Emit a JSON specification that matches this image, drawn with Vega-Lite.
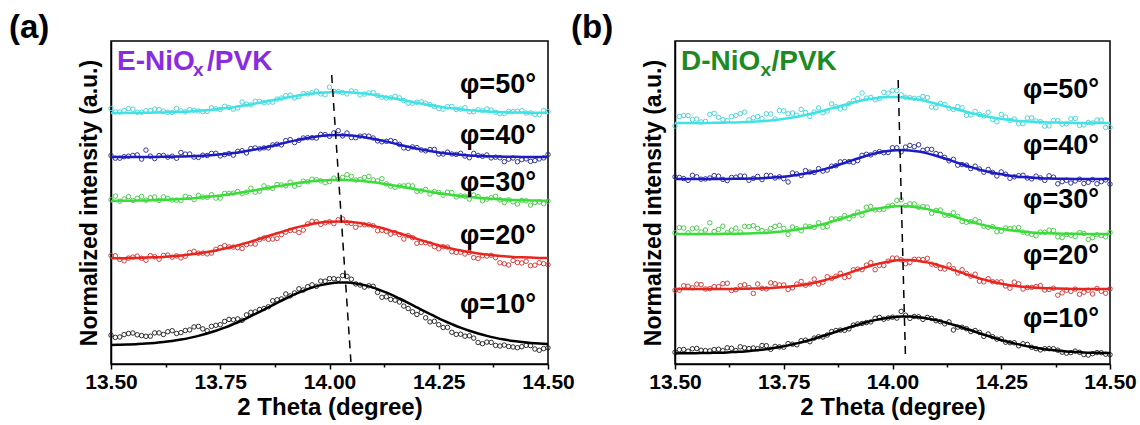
{
"$schema": "https://vega.github.io/schema/vega-lite/v6.json",
"padding": {"left": 8, "top": 11, "right": 0, "bottom": 0},
"spacing": -6,
"config": {
  "view": {"stroke": "black", "strokeWidth": 1.5},
  "axis": {"grid": false, "domainColor": "black", "domainWidth": 1.5, "tickColor": "black", "tickWidth": 1.5, "labelColor": "black", "titleColor": "black", "labelFont": "Liberation Sans", "titleFont": "Liberation Sans"}
},
"datasets": {
"A": [
{"x":13.5,"f10":19.0,"f20":105.7,"f30":163.1,"f40":207.0,"f50":251.1,"p10":28.8,"p20":108.4,"p30":164.2,"p40":208.5,"p50":255.6},
{"x":13.52,"f10":19.2,"f20":105.8,"f30":163.2,"f40":207.0,"f50":251.1,"p10":27.0,"p20":104.6,"p30":162.8,"p40":205.8,"p50":252.1},
{"x":13.54,"f10":19.5,"f20":105.9,"f30":163.3,"f40":207.0,"f50":251.1,"p10":30.5,"p20":105.9,"p30":167.4,"p40":207.8,"p50":255.4},
{"x":13.56,"f10":19.9,"f20":106.1,"f30":163.4,"f40":207.1,"f50":251.2,"p10":29.2,"p20":107.9,"p30":165.7,"p40":209.1,"p50":251.7},
{"x":13.58,"f10":20.4,"f20":106.4,"f30":163.6,"f40":207.1,"f50":251.3,"p10":27.7,"p20":103.7,"p30":163.8,"p40":213.9,"p50":253.3},
{"x":13.6,"f10":21.1,"f20":106.7,"f30":163.8,"f40":207.1,"f50":251.4,"p10":31.1,"p20":107.3,"p30":167.0,"p40":205.4,"p50":254.9},
{"x":13.62,"f10":22.0,"f20":107.1,"f30":164.1,"f40":207.2,"f50":251.6,"p10":29.5,"p20":108.6,"p30":167.1,"p40":208.5,"p50":252.9},
{"x":13.64,"f10":23.0,"f20":107.7,"f30":164.5,"f40":207.3,"f50":251.8,"p10":33.3,"p20":106.8,"p30":163.9,"p40":207.8,"p50":251.6},
{"x":13.66,"f10":24.4,"f20":108.5,"f30":165.0,"f40":207.5,"f50":252.2,"p10":31.4,"p20":106.1,"p30":163.5,"p40":211.5,"p50":253.2},
{"x":13.68,"f10":26.1,"f20":109.4,"f30":165.5,"f40":207.7,"f50":252.6,"p10":34.1,"p20":111.5,"p30":166.4,"p40":210.0,"p50":254.4},
{"x":13.7,"f10":28.1,"f20":110.5,"f30":166.2,"f40":208.1,"f50":253.2,"p10":37.6,"p20":110.8,"p30":168.6,"p40":206.6,"p50":253.0},
{"x":13.72,"f10":30.5,"f20":111.9,"f30":167.0,"f40":208.5,"f50":253.8,"p10":33.3,"p20":110.1,"p30":166.7,"p40":208.5,"p50":252.6},
{"x":13.74,"f10":33.2,"f20":113.5,"f30":168.0,"f40":209.2,"f50":254.7,"p10":38.7,"p20":114.7,"p30":165.9,"p40":210.7,"p50":255.2},
{"x":13.76,"f10":36.3,"f20":115.4,"f30":169.1,"f40":210.0,"f50":255.7,"p10":42.6,"p20":118.4,"p30":170.6,"p40":209.3,"p50":257.7},
{"x":13.78,"f10":39.9,"f20":117.5,"f30":170.3,"f40":211.0,"f50":256.8,"p10":44.2,"p20":116.9,"p30":170.9,"p40":208.8,"p50":254.8},
{"x":13.8,"f10":43.7,"f20":119.9,"f30":171.6,"f40":212.3,"f50":258.2,"p10":43.7,"p20":115.4,"p30":170.4,"p40":213.3,"p50":262.0},
{"x":13.82,"f10":47.9,"f20":122.4,"f30":173.1,"f40":213.7,"f50":259.6,"p10":51.7,"p20":120.3,"p30":175.8,"p40":215.5,"p50":259.1},
{"x":13.84,"f10":52.2,"f20":125.1,"f30":174.6,"f40":215.4,"f50":261.2,"p10":54.5,"p20":124.5,"p30":172.8,"p40":215.2,"p50":262.7},
{"x":13.86,"f10":56.7,"f20":128.0,"f30":176.1,"f40":217.3,"f50":262.9,"p10":57.2,"p20":124.7,"p30":176.1,"p40":216.1,"p50":261.9},
{"x":13.88,"f10":61.2,"f20":130.7,"f30":177.7,"f40":219.3,"f50":264.6,"p10":64.2,"p20":125.6,"p30":179.5,"p40":219.8,"p50":264.9},
{"x":13.9,"f10":65.5,"f20":133.4,"f30":179.1,"f40":221.4,"f50":266.2,"p10":70.0,"p20":131.9,"p30":178.2,"p40":223.4,"p50":268.5},
{"x":13.92,"f10":69.6,"f20":136.0,"f30":180.5,"f40":223.4,"f50":267.8,"p10":71.1,"p20":133.6,"p30":177.8,"p40":221.4,"p50":266.1},
{"x":13.94,"f10":73.2,"f20":138.1,"f30":181.7,"f40":225.2,"f50":269.2,"p10":74.0,"p20":133.9,"p30":182.9,"p40":226.0,"p50":270.5},
{"x":13.96,"f10":76.4,"f20":140.0,"f30":182.7,"f40":226.8,"f50":270.4,"p10":79.2,"p20":142.7,"p30":184.8,"p40":226.3,"p50":271.2},
{"x":13.98,"f10":78.9,"f20":141.4,"f30":183.4,"f40":228.0,"f50":271.3,"p10":82.9,"p20":139.6,"p30":183.1,"p40":229.5,"p50":270.1},
{"x":14.0,"f10":80.6,"f20":142.2,"f30":183.9,"f40":228.7,"f50":271.8,"p10":85.4,"p20":142.2,"p30":182.4,"p40":227.7,"p50":276.8},
{"x":14.02,"f10":81.4,"f20":142.5,"f30":184.0,"f40":229.0,"f50":272.0,"p10":84.7,"p20":144.3,"p30":184.6,"p40":233.3,"p50":272.3},
{"x":14.04,"f10":81.4,"f20":142.2,"f30":183.9,"f40":228.7,"f50":271.8,"p10":87.7,"p20":141.3,"p30":189.3,"p40":231.0,"p50":270.1},
{"x":14.06,"f10":80.6,"f20":141.4,"f30":183.4,"f40":228.0,"f50":271.3,"p10":80.1,"p20":136.7,"p30":184.0,"p40":226.3,"p50":272.3},
{"x":14.08,"f10":78.9,"f20":140.0,"f30":182.7,"f40":226.8,"f50":270.4,"p10":76.9,"p20":139.2,"p30":186.6,"p40":228.1,"p50":269.9},
{"x":14.1,"f10":76.4,"f20":138.1,"f30":181.7,"f40":225.2,"f50":269.2,"p10":77.7,"p20":138.2,"p30":184.1,"p40":226.0,"p50":271.5},
{"x":14.12,"f10":73.2,"f20":136.0,"f30":180.5,"f40":223.4,"f50":267.8,"p10":66.7,"p20":133.7,"p30":185.3,"p40":222.2,"p50":266.8},
{"x":14.14,"f10":69.6,"f20":133.4,"f30":179.1,"f40":221.4,"f50":266.2,"p10":64.6,"p20":129.9,"p30":177.9,"p40":223.4,"p50":266.2},
{"x":14.16,"f10":65.5,"f20":130.7,"f30":177.7,"f40":219.3,"f50":264.6,"p10":62.0,"p20":129.3,"p30":178.0,"p40":219.6,"p50":266.1},
{"x":14.18,"f10":61.2,"f20":128.0,"f30":176.1,"f40":217.3,"f50":262.9,"p10":55.5,"p20":128.4,"p30":178.8,"p40":215.6,"p50":260.7},
{"x":14.2,"f10":56.7,"f20":125.1,"f30":174.6,"f40":215.4,"f50":261.2,"p10":49.5,"p20":120.7,"p30":172.5,"p40":216.4,"p50":261.7},
{"x":14.22,"f10":52.2,"f20":122.4,"f30":173.1,"f40":213.7,"f50":259.6,"p10":46.2,"p20":121.3,"p30":174.6,"p40":213.2,"p50":260.9},
{"x":14.24,"f10":47.9,"f20":119.9,"f30":171.6,"f40":212.3,"f50":258.2,"p10":42.7,"p20":117.3,"p30":172.5,"p40":214.6,"p50":257.5},
{"x":14.26,"f10":43.7,"f20":117.5,"f30":170.3,"f40":211.0,"f50":256.8,"p10":36.5,"p20":117.3,"p30":168.8,"p40":210.0,"p50":254.8},
{"x":14.28,"f10":39.9,"f20":115.4,"f30":169.1,"f40":210.0,"f50":255.7,"p10":31.7,"p20":112.2,"p30":171.5,"p40":210.0,"p50":257.5},
{"x":14.3,"f10":36.3,"f20":113.5,"f30":168.0,"f40":209.2,"f50":254.7,"p10":29.8,"p20":111.8,"p30":168.3,"p40":210.7,"p50":255.0},
{"x":14.32,"f10":33.2,"f20":111.9,"f30":167.0,"f40":208.5,"f50":253.8,"p10":28.2,"p20":111.6,"p30":164.9,"p40":206.3,"p50":252.3},
{"x":14.34,"f10":30.5,"f20":110.5,"f30":166.2,"f40":208.1,"f50":253.2,"p10":21.5,"p20":105.4,"p30":167.4,"p40":208.6,"p50":254.2},
{"x":14.36,"f10":28.1,"f20":109.4,"f30":165.5,"f40":207.7,"f50":252.6,"p10":21.9,"p20":107.9,"p30":164.9,"p40":209.0,"p50":255.1},
{"x":14.38,"f10":26.1,"f20":108.5,"f30":165.0,"f40":207.5,"f50":252.2,"p10":18.6,"p20":106.4,"p30":167.7,"p40":206.8,"p50":251.7},
{"x":14.4,"f10":24.4,"f20":107.7,"f30":164.5,"f40":207.3,"f50":251.8,"p10":18.9,"p20":100.2,"p30":161.3,"p40":202.3,"p50":250.6},
{"x":14.42,"f10":23.0,"f20":107.1,"f30":164.1,"f40":207.2,"f50":251.6,"p10":17.0,"p20":103.5,"p30":162.1,"p40":206.0,"p50":252.4},
{"x":14.44,"f10":22.0,"f20":106.7,"f30":163.8,"f40":207.1,"f50":251.4,"p10":17.3,"p20":101.0,"p30":163.6,"p40":204.4,"p50":253.4},
{"x":14.46,"f10":21.1,"f20":106.4,"f30":163.6,"f40":207.1,"f50":251.3,"p10":18.4,"p20":98.3,"p30":158.9,"p40":202.6,"p50":251.1},
{"x":14.48,"f10":20.4,"f20":106.1,"f30":163.4,"f40":207.1,"f50":251.2,"p10":13.7,"p20":101.3,"p30":162.0,"p40":205.1,"p50":249.5},
{"x":14.5,"f10":19.9,"f20":105.9,"f30":163.3,"f40":207.0,"f50":251.1,"p10":16.2,"p20":99.3,"p30":162.8,"p40":209.5,"p50":252.4},
{"x":13.51,"p10":26.6,"p20":108.2,"p30":167.9,"p40":205.8,"p50":252.1},
{"x":13.53,"p10":29.4,"p20":103.2,"p30":165.0,"p40":207.3,"p50":253.6},
{"x":13.55,"p10":31.0,"p20":106.9,"p30":163.6,"p40":208.6,"p50":254.9},
{"x":13.57,"p10":28.4,"p20":105.7,"p30":167.6,"p40":204.9,"p50":251.8},
{"x":13.59,"p10":27.8,"p20":108.4,"p30":166.3,"p40":207.9,"p50":253.4},
{"x":13.61,"p10":31.1,"p20":104.8,"p30":163.6,"p40":208.4,"p50":254.5},
{"x":13.63,"p10":32.3,"p20":108.9,"p30":165.5,"p40":206.8,"p50":251.7},
{"x":13.65,"p10":30.5,"p20":108.1,"p30":163.9,"p40":205.7,"p50":255.5},
{"x":13.67,"p10":33.5,"p20":107.8,"p30":167.7,"p40":209.9,"p50":252.2},
{"x":13.69,"p10":37.1,"p20":112.7,"p30":164.4,"p40":206.9,"p50":253.7},
{"x":13.71,"p10":35.1,"p20":110.9,"p30":166.9,"p40":208.8,"p50":252.3},
{"x":13.73,"p10":37.6,"p20":110.9,"p30":169.3,"p40":210.6,"p50":256.3},
{"x":13.75,"p10":39.3,"p20":116.6,"p30":165.9,"p40":208.1,"p50":254.5},
{"x":13.77,"p10":44.6,"p20":117.1,"p30":170.6,"p40":210.5,"p50":256.5},
{"x":13.79,"p10":45.1,"p20":116.3,"p30":172.5,"p40":212.7,"p50":256.0},
{"x":13.81,"p10":49.1,"p20":119.4,"p30":171.8,"p40":211.0,"p50":259.9},
{"x":13.83,"p10":52.1,"p20":119.9,"p30":171.8,"p40":216.1,"p50":262.7},
{"x":13.85,"p10":55.5,"p20":126.0,"p30":178.1,"p40":216.1,"p50":261.3},
{"x":13.87,"p10":63.2,"p20":124.9,"p30":175.7,"p40":219.1,"p50":261.8},
{"x":13.89,"p10":65.1,"p20":129.4,"p30":179.0,"p40":219.1,"p50":265.9},
{"x":13.91,"p10":68.1,"p20":133.5,"p30":181.9,"p40":224.4,"p50":268.8},
{"x":13.93,"p10":75.2,"p20":131.4,"p30":179.3,"p40":223.6,"p50":267.3},
{"x":13.95,"p10":77.3,"p20":140.0,"p30":182.2,"p40":226.3,"p50":270.1},
{"x":13.97,"p10":77.7,"p20":142.2,"p30":184.3,"p40":225.9,"p50":272.9},
{"x":13.99,"p10":82.8,"p20":141.2,"p30":181.3,"p40":229.4,"p50":269.3},
{"x":14.01,"p10":85.3,"p20":140.3,"p30":185.8,"p40":231.1,"p50":272.7},
{"x":14.03,"p10":88.4,"p20":145.1,"p30":186.7,"p40":228.1,"p50":271.4},
{"x":14.05,"p10":84.8,"p20":140.6,"p30":187.6,"p40":226.4,"p50":273.1},
{"x":14.07,"p10":79.0,"p20":139.3,"p30":184.6,"p40":227.9,"p50":269.1},
{"x":14.09,"p10":78.2,"p20":139.2,"p30":187.6,"p40":227.8,"p50":271.1},
{"x":14.11,"p10":71.6,"p20":133.3,"p30":183.2,"p40":223.1,"p50":268.5},
{"x":14.13,"p10":67.2,"p20":132.7,"p30":180.1,"p40":222.7,"p50":266.0},
{"x":14.15,"p10":63.8,"p20":131.3,"p30":176.6,"p40":222.4,"p50":267.7},
{"x":14.17,"p10":57.9,"p20":125.0,"p30":178.1,"p40":216.1,"p50":263.5},
{"x":14.19,"p10":52.2,"p20":126.4,"p30":178.1,"p40":217.1,"p50":260.6},
{"x":14.21,"p10":51.7,"p20":121.5,"p30":173.0,"p40":214.1,"p50":262.2},
{"x":14.23,"p10":42.1,"p20":120.1,"p30":170.0,"p40":214.5,"p50":259.4},
{"x":14.25,"p10":39.3,"p20":115.2,"p30":171.6,"p40":209.9,"p50":255.5},
{"x":14.27,"p10":36.6,"p20":116.9,"p30":171.8,"p40":211.8,"p50":257.3},
{"x":14.29,"p10":29.6,"p20":111.6,"p30":167.1,"p40":209.6,"p50":254.5},
{"x":14.31,"p10":27.8,"p20":110.0,"p30":167.8,"p40":207.9,"p50":256.3},
{"x":14.33,"p10":25.9,"p20":106.4,"p30":169.0,"p40":210.6,"p50":252.3},
{"x":14.35,"p10":20.3,"p20":108.2,"p30":163.2,"p40":207.7,"p50":253.2},
{"x":14.37,"p10":21.6,"p20":108.7,"p30":166.2,"p40":206.1,"p50":253.9},
{"x":14.39,"p10":18.0,"p20":101.2,"p30":164.2,"p40":206.2,"p50":250.3},
{"x":14.41,"p10":17.5,"p20":99.0,"p30":164.1,"p40":204.8,"p50":252.5},
{"x":14.43,"p10":16.3,"p20":101.5,"p30":159.9,"p40":202.2,"p50":252.8},
{"x":14.45,"p10":18.6,"p20":102.7,"p30":163.2,"p40":205.1,"p50":250.9},
{"x":14.47,"p10":15.0,"p20":98.8,"p30":161.5,"p40":203.4,"p50":249.5},
{"x":14.49,"p10":15.4,"p20":100.3,"p30":160.2,"p40":206.1,"p50":253.4}
],
"B": [
{"x":13.5,"f10":10.6,"f20":75.0,"f30":130.0,"f40":185.0,"f50":241.0,"p10":11.8,"p20":73.8,"p30":131.2,"p40":187.2,"p50":238.0},
{"x":13.52,"f10":10.7,"f20":75.0,"f30":130.0,"f40":185.0,"f50":241.0,"p10":14.5,"p20":78.2,"p30":136.0,"p40":185.4,"p50":248.5},
{"x":13.54,"f10":10.8,"f20":75.0,"f30":130.0,"f40":185.0,"f50":241.0,"p10":15.2,"p20":76.2,"p30":135.2,"p40":188.7,"p50":244.5},
{"x":13.56,"f10":10.9,"f20":75.0,"f30":130.0,"f40":185.0,"f50":241.0,"p10":13.7,"p20":79.4,"p30":132.0,"p40":184.8,"p50":242.0},
{"x":13.58,"f10":11.1,"f20":75.0,"f30":130.0,"f40":185.0,"f50":241.1,"p10":13.1,"p20":75.4,"p30":141.2,"p40":186.0,"p50":249.6},
{"x":13.6,"f10":11.3,"f20":75.0,"f30":130.1,"f40":185.0,"f50":241.2,"p10":14.7,"p20":77.4,"p30":134.5,"p40":187.8,"p50":246.7},
{"x":13.62,"f10":11.6,"f20":75.1,"f30":130.2,"f40":185.1,"f50":241.4,"p10":16.2,"p20":80.7,"p30":131.4,"p40":183.4,"p50":243.4},
{"x":13.64,"f10":12.1,"f20":75.1,"f30":130.3,"f40":185.2,"f50":241.6,"p10":13.5,"p20":74.3,"p30":135.9,"p40":186.8,"p50":248.6},
{"x":13.66,"f10":12.6,"f20":75.2,"f30":130.4,"f40":185.3,"f50":241.9,"p10":16.2,"p20":79.2,"p30":137.6,"p40":187.8,"p50":251.9},
{"x":13.68,"f10":13.4,"f20":75.4,"f30":130.7,"f40":185.5,"f50":242.2,"p10":16.0,"p20":70.6,"p30":138.3,"p40":185.6,"p50":246.2},
{"x":13.7,"f10":14.3,"f20":75.7,"f30":131.1,"f40":185.8,"f50":242.8,"p10":18.5,"p20":75.7,"p30":133.5,"p40":184.4,"p50":245.3},
{"x":13.72,"f10":15.5,"f20":76.0,"f30":131.6,"f40":186.3,"f50":243.5,"p10":14.7,"p20":81.2,"p30":135.6,"p40":188.4,"p50":250.0},
{"x":13.74,"f10":16.9,"f20":76.6,"f30":132.3,"f40":186.9,"f50":244.5,"p10":17.1,"p20":79.0,"p30":138.7,"p40":187.2,"p50":253.5},
{"x":13.76,"f10":18.6,"f20":77.3,"f30":133.2,"f40":187.8,"f50":245.7,"p10":20.4,"p20":74.5,"p30":129.6,"p40":182.0,"p50":250.2},
{"x":13.78,"f10":20.6,"f20":78.3,"f30":134.4,"f40":188.9,"f50":247.2,"p10":19.2,"p20":79.9,"p30":135.2,"p40":190.1,"p50":248.7},
{"x":13.8,"f10":22.8,"f20":79.6,"f30":135.9,"f40":190.4,"f50":249.0,"p10":23.8,"p20":78.8,"p30":137.9,"p40":193.4,"p50":251.5},
{"x":13.82,"f10":25.3,"f20":81.3,"f30":137.8,"f40":192.2,"f50":251.0,"p10":25.9,"p20":84.9,"p30":136.6,"p40":191.6,"p50":252.0},
{"x":13.84,"f10":28.0,"f20":83.3,"f30":139.9,"f40":194.4,"f50":253.2,"p10":27.0,"p20":81.7,"p30":136.7,"p40":192.9,"p50":251.2},
{"x":13.86,"f10":30.8,"f20":85.6,"f30":142.3,"f40":196.9,"f50":255.6,"p10":32.4,"p20":85.6,"p30":145.1,"p40":197.8,"p50":260.1},
{"x":13.88,"f10":33.7,"f20":88.3,"f30":145.0,"f40":199.7,"f50":258.0,"p10":33.9,"p20":90.7,"p30":145.4,"p40":202.1,"p50":255.0},
{"x":13.9,"f10":36.5,"f20":91.1,"f30":147.7,"f40":202.6,"f50":260.3,"p10":35.1,"p20":87.5,"p30":145.3,"p40":202.3,"p50":260.3},
{"x":13.92,"f10":39.2,"f20":94.1,"f30":150.3,"f40":205.5,"f50":262.5,"p10":40.0,"p20":94.9,"p30":151.9,"p40":203.4,"p50":265.5},
{"x":13.94,"f10":41.8,"f20":96.9,"f30":152.8,"f40":208.2,"f50":264.4,"p10":41.4,"p20":98.9,"p30":156.8,"p40":209.7,"p50":265.9},
{"x":13.96,"f10":43.9,"f20":99.5,"f30":154.9,"f40":210.6,"f50":265.8,"p10":45.7,"p20":94.3,"p30":154.1,"p40":211.2,"p50":264.3},
{"x":13.98,"f10":45.6,"f20":101.6,"f30":156.6,"f40":212.4,"f50":266.7,"p10":44.8,"p20":98.4,"p30":154.6,"p40":211.2,"p50":271.7},
{"x":14.0,"f10":46.8,"f20":103.1,"f30":157.6,"f40":213.6,"f50":267.0,"p10":46.8,"p20":105.9,"p30":158.8,"p40":216.3,"p50":273.5},
{"x":14.02,"f10":47.4,"f20":103.9,"f30":158.0,"f40":214.0,"f50":266.7,"p10":52.6,"p20":104.3,"p30":164.2,"p40":212.2,"p50":269.2},
{"x":14.04,"f10":47.4,"f20":103.9,"f30":157.6,"f40":213.6,"f50":265.8,"p10":45.6,"p20":101.5,"p30":160.2,"p40":218.6,"p50":266.3},
{"x":14.06,"f10":46.8,"f20":103.1,"f30":156.6,"f40":212.4,"f50":264.4,"p10":47.2,"p20":104.7,"p30":156.8,"p40":219.2,"p50":265.4},
{"x":14.08,"f10":45.6,"f20":101.6,"f30":154.9,"f40":210.6,"f50":262.5,"p10":46.6,"p20":105.6,"p30":156.9,"p40":214.7,"p50":266.5},
{"x":14.1,"f10":43.9,"f20":99.5,"f30":152.8,"f40":208.2,"f50":260.3,"p10":43.3,"p20":98.7,"p30":153.6,"p40":210.5,"p50":256.3},
{"x":14.12,"f10":41.8,"f20":96.9,"f30":150.3,"f40":205.5,"f50":258.0,"p10":40.2,"p20":94.9,"p30":148.7,"p40":206.7,"p50":259.5},
{"x":14.14,"f10":39.2,"f20":94.1,"f30":147.7,"f40":202.6,"f50":255.6,"p10":34.0,"p20":95.3,"p30":151.3,"p40":204.7,"p50":254.6},
{"x":14.16,"f10":36.5,"f20":91.1,"f30":145.0,"f40":199.7,"f50":253.2,"p10":36.7,"p20":94.3,"p30":142.6,"p40":199.4,"p50":256.2},
{"x":14.18,"f10":33.7,"f20":88.3,"f30":142.3,"f40":196.9,"f50":251.0,"p10":32.5,"p20":87.9,"p30":142.3,"p40":195.4,"p50":249.0},
{"x":14.2,"f10":30.8,"f20":85.6,"f30":139.9,"f40":194.4,"f50":249.0,"p10":31.6,"p20":82.8,"p30":142.3,"p40":195.0,"p50":249.5},
{"x":14.22,"f10":28.0,"f20":83.3,"f30":137.8,"f40":192.2,"f50":247.2,"p10":30.0,"p20":85.3,"p30":136.6,"p40":194.6,"p50":251.7},
{"x":14.24,"f10":25.3,"f20":81.3,"f30":135.9,"f40":190.4,"f50":245.7,"p10":24.9,"p20":82.1,"p30":132.3,"p40":188.0,"p50":242.2},
{"x":14.26,"f10":22.8,"f20":79.6,"f30":134.4,"f40":188.9,"f50":244.5,"p10":21.8,"p20":78.0,"p30":136.0,"p40":189.8,"p50":247.0},
{"x":14.28,"f10":20.6,"f20":78.3,"f30":133.2,"f40":187.8,"f50":243.5,"p10":21.2,"p20":81.9,"p30":136.0,"p40":187.2,"p50":245.0},
{"x":14.3,"f10":18.6,"f20":77.3,"f30":132.3,"f40":186.9,"f50":242.8,"p10":20.2,"p20":74.9,"p30":131.9,"p40":188.7,"p50":240.3},
{"x":14.32,"f10":16.9,"f20":76.6,"f30":131.6,"f40":186.3,"f50":242.2,"p10":16.7,"p20":76.6,"p30":129.6,"p40":185.1,"p50":246.2},
{"x":14.34,"f10":15.5,"f20":76.0,"f30":131.1,"f40":185.8,"f50":241.9,"p10":14.1,"p20":78.4,"p30":131.9,"p40":186.1,"p50":242.4},
{"x":14.36,"f10":14.3,"f20":75.7,"f30":130.7,"f40":185.5,"f50":241.6,"p10":15.3,"p20":74.5,"p30":133.9,"p40":188.2,"p50":238.1},
{"x":14.38,"f10":13.4,"f20":75.4,"f30":130.4,"f40":185.3,"f50":241.4,"p10":13.8,"p20":68.8,"p30":127.2,"p40":180.2,"p50":243.4},
{"x":14.4,"f10":12.6,"f20":75.2,"f30":130.3,"f40":185.2,"f50":241.2,"p10":10.8,"p20":73.8,"p30":129.5,"p40":183.7,"p50":240.2},
{"x":14.42,"f10":12.1,"f20":75.1,"f30":130.2,"f40":185.1,"f50":241.1,"p10":12.9,"p20":74.9,"p30":127.4,"p40":183.0,"p50":245.6},
{"x":14.44,"f10":11.6,"f20":75.1,"f30":130.1,"f40":185.0,"f50":241.0,"p10":9.4,"p20":71.7,"p30":130.5,"p40":180.5,"p50":239.0},
{"x":14.46,"f10":11.3,"f20":75.0,"f30":130.0,"f40":185.0,"f50":241.0,"p10":10.3,"p20":70.0,"p30":126.4,"p40":184.4,"p50":241.0},
{"x":14.48,"f10":11.1,"f20":75.0,"f30":130.0,"f40":185.0,"f50":241.0,"p10":11.3,"p20":72.8,"p30":128.4,"p40":182.3,"p50":244.0},
{"x":14.5,"f10":10.9,"f20":75.0,"f30":130.0,"f40":185.0,"f50":241.0,"p10":9.3,"p20":75.2,"p30":131.6,"p40":179.9,"p50":236.5},
{"x":13.51,"p10":14.3,"p20":73.8,"p30":136.4,"p40":186.6,"p50":247.5},
{"x":13.53,"p10":12.8,"p20":77.8,"p30":131.2,"p40":183.6,"p50":248.5},
{"x":13.55,"p10":15.5,"p20":79.8,"p30":136.0,"p40":187.2,"p50":245.0},
{"x":13.57,"p10":13.4,"p20":75.0,"p30":134.0,"p40":185.1,"p50":242.6},
{"x":13.59,"p10":14.4,"p20":77.4,"p30":132.5,"p40":188.4,"p50":250.7},
{"x":13.61,"p10":13.3,"p20":80.3,"p30":137.8,"p40":184.6,"p50":244.3},
{"x":13.63,"p10":15.7,"p20":73.5,"p30":133.9,"p40":186.5,"p50":247.5},
{"x":13.65,"p10":17.2,"p20":78.4,"p30":132.0,"p40":188.1,"p50":250.3},
{"x":13.67,"p10":15.4,"p20":76.5,"p30":137.4,"p40":183.7,"p50":244.1},
{"x":13.69,"p10":15.3,"p20":80.0,"p30":135.7,"p40":187.6,"p50":247.5},
{"x":13.71,"p10":18.3,"p20":75.1,"p30":132.2,"p40":188.6,"p50":250.2},
{"x":13.73,"p10":17.6,"p20":80.3,"p30":137.6,"p40":186.0,"p50":245.0},
{"x":13.75,"p10":16.8,"p20":79.0,"p30":135.6,"p40":185.3,"p50":253.1},
{"x":13.77,"p10":19.8,"p20":76.2,"p30":137.0,"p40":191.1,"p50":251.0},
{"x":13.79,"p10":23.3,"p20":82.6,"p30":133.2,"p40":188.5,"p50":254.6},
{"x":13.81,"p10":22.3,"p20":80.1,"p30":137.3,"p40":191.9,"p50":247.5},
{"x":13.83,"p10":27.3,"p20":79.9,"p30":141.3,"p40":195.4,"p50":256.1},
{"x":13.85,"p10":29.0,"p20":87.3,"p30":137.5,"p40":193.9,"p50":252.9},
{"x":13.87,"p10":33.5,"p20":87.8,"p30":144.9,"p40":198.3,"p50":257.3},
{"x":13.89,"p10":33.7,"p20":86.5,"p30":148.4,"p40":202.4,"p50":256.2},
{"x":13.91,"p10":38.9,"p20":94.2,"p30":148.2,"p40":201.7,"p50":263.4},
{"x":13.93,"p10":40.5,"p20":94.3,"p30":148.8,"p40":208.7,"p50":271.0},
{"x":13.95,"p10":42.1,"p20":101.4,"p30":157.5,"p40":209.1,"p50":266.6},
{"x":13.97,"p10":46.6,"p20":98.6,"p30":154.2,"p40":212.4,"p50":265.3},
{"x":13.99,"p10":46.0,"p20":102.8,"p30":157.9,"p40":211.5,"p50":270.9},
{"x":14.01,"p10":45.9,"p20":105.9,"p30":163.6,"p40":216.2,"p50":273.4},
{"x":14.03,"p10":48.8,"p20":100.3,"p30":158.4,"p40":216.9,"p50":266.8},
{"x":14.05,"p10":47.5,"p20":104.7,"p30":160.1,"p40":217.3,"p50":265.6},
{"x":14.07,"p10":44.6,"p20":104.4,"p30":157.4,"p40":213.7,"p50":267.5},
{"x":14.09,"p10":45.6,"p20":99.8,"p30":150.7,"p40":214.6,"p50":256.9},
{"x":14.11,"p10":42.3,"p20":95.4,"p30":154.0,"p40":209.6,"p50":260.7},
{"x":14.13,"p10":42.1,"p20":99.1,"p30":148.6,"p40":203.2,"p50":255.8},
{"x":14.15,"p10":36.9,"p20":91.0,"p30":147.6,"p40":198.8,"p50":257.4},
{"x":14.17,"p10":35.3,"p20":90.5,"p30":141.7,"p40":198.9,"p50":248.6},
{"x":14.19,"p10":33.5,"p20":89.8,"p30":144.3,"p40":197.8,"p50":252.5},
{"x":14.21,"p10":27.6,"p20":82.1,"p30":137.7,"p40":191.8,"p50":248.1},
{"x":14.23,"p10":27.3,"p20":82.3,"p30":137.3,"p40":191.6,"p50":244.5},
{"x":14.25,"p10":25.1,"p20":82.1,"p30":132.8,"p40":192.1,"p50":249.6},
{"x":14.27,"p10":21.3,"p20":75.8,"p30":135.4,"p40":185.7,"p50":243.5},
{"x":14.29,"p10":18.2,"p20":80.2,"p30":136.4,"p40":188.3,"p50":240.2},
{"x":14.31,"p10":19.6,"p20":76.6,"p30":130.8,"p40":186.0,"p50":246.0},
{"x":14.33,"p10":15.4,"p20":77.5,"p30":128.2,"p40":187.9,"p50":243.1},
{"x":14.35,"p10":15.3,"p20":73.9,"p30":131.7,"p40":183.6,"p50":237.8},
{"x":14.37,"p10":15.3,"p20":75.8,"p30":133.4,"p40":186.9,"p50":243.5},
{"x":14.39,"p10":11.8,"p20":71.1,"p30":126.4,"p40":182.3,"p50":239.8},
{"x":14.41,"p10":11.4,"p20":72.6,"p30":128.7,"p40":181.0,"p50":245.2},
{"x":14.43,"p10":11.7,"p20":69.7,"p30":131.4,"p40":184.8,"p50":238.6},
{"x":14.45,"p10":8.9,"p20":73.7,"p30":124.5,"p40":181.7,"p50":241.5},
{"x":14.47,"p10":11.4,"p20":75.6,"p30":129.2,"p40":180.2,"p50":244.0},
{"x":14.49,"p10":9.8,"p20":70.8,"p30":127.2,"p40":184.1,"p50":236.5}
],
"labA": [
{"x":14.4725,"y":271,"t":"φ=50°"},
{"x":14.4725,"y":220,"t":"φ=40°"},
{"x":14.4725,"y":173.3,"t":"φ=30°"},
{"x":14.4725,"y":120,"t":"φ=20°"},
{"x":14.4725,"y":50.7,"t":"φ=10°"}
],
"labB": [
{"x":14.4747,"y":265.7,"t":"φ=50°"},
{"x":14.4747,"y":210,"t":"φ=40°"},
{"x":14.4747,"y":155.7,"t":"φ=30°"},
{"x":14.4747,"y":100,"t":"φ=20°"},
{"x":14.4747,"y":37.3,"t":"φ=10°"}
],
"dashA": [{"x":14.005,"y":289},{"x":14.049,"y":2}],
"dashB": [{"x":14.013,"y":284},{"x":14.03,"y":4}],
"tagA": [
{"x":13.2666,"y":326,"t":"(a)","part":"panel"},
{"x":13.5137,"y":294,"t":"E-NiO","part":"main"},
{"x":13.6876,"y":288,"t":"x","part":"sub"},
{"x":13.7197,"y":294,"t":"/PVK","part":"main"}
],
"tagB": [
{"x":13.2609,"y":326,"t":"(b)","part":"panel"},
{"x":13.5138,"y":294,"t":"D-NiO","part":"main"},
{"x":13.6966,"y":288,"t":"x","part":"sub"},
{"x":13.7218,"y":294,"t":"/PVK","part":"main"}
]
},
"hconcat": [
{
"width": 437, "height": 323,
"layer": [
{"data": {"name": "A"}, "transform": [{"fold": ["p10","p20","p30","p40","p50"], "as": ["phi","y"]}, {"filter": "datum.y != null"}],
 "mark": {"type": "point", "shape": "circle", "filled": false, "size": 20, "strokeWidth": 0.9, "opacity": 1},
 "encoding": {
  "x": {"field": "x", "type": "quantitative", "scale": {"domain": [13.5, 14.5], "nice": false, "zero": false},
        "axis": {"orient": "bottom", "values": [13.5, 13.625, 13.75, 13.875, 14, 14.125, 14.25, 14.375, 14.5], "labelExpr": "(datum.value * 4) % 1 == 0 ? format(datum.value, '.2f') : ''", "labelFlush": false, "labelOverlap": false, "labelFontSize": 21, "labelFontWeight": "bold", "labelPadding": 2, "tickSize": {"condition": {"test": "(datum.value * 4) % 1 == 0", "value": 5}, "value": 3}, "title": "2 Theta (degree)", "titleFontSize": 24, "titleFontWeight": "bold", "titlePadding": 3}},
  "y": {"field": "y", "type": "quantitative", "scale": {"domain": [0, 323], "nice": false, "zero": false},
        "axis": {"title": "Normalized intensity (a.u.)", "labels": false, "ticks": false, "titleFontSize": 23, "titleFontWeight": "bold", "titlePadding": 10}},
  "color": {"field": "phi", "type": "nominal", "legend": null,
            "scale": {"domain": ["p10","p20","p30","p40","p50","f10","f20","f30","f40","f50"], "range": ["#1a1a1a","#c8302c","#3ec43e","#22228a","#3fcfd2","#000000","#e8251f","#38dd38","#1c1cc4","#3fe3e6"]}}
 }},
{"data": {"name": "A"}, "transform": [{"fold": ["f10","f20","f30","f40","f50"], "as": ["phi","y"]}, {"filter": "datum.y != null"}],
 "mark": {"type": "line", "strokeWidth": 2.5, "interpolate": "monotone"},
 "encoding": {
  "x": {"field": "x", "type": "quantitative"},
  "y": {"field": "y", "type": "quantitative"},
  "color": {"field": "phi", "type": "nominal", "legend": null}
 }},
{"data": {"name": "dashA"},
 "mark": {"type": "line", "color": "black", "strokeWidth": 1.5, "strokeDash": [8, 6]},
 "encoding": {"x": {"field": "x", "type": "quantitative"}, "y": {"field": "y", "type": "quantitative"}}},
{"data": {"name": "labA"},
 "mark": {"type": "text", "align": "right", "baseline": "alphabetic", "font": "Liberation Sans", "fontSize": 27, "fontWeight": "bold", "color": "black"},
 "encoding": {"x": {"field": "x", "type": "quantitative"}, "y": {"field": "y", "type": "quantitative"}, "text": {"field": "t"}}},
{"data": {"name": "tagA"}, "transform": [{"filter": "datum.part == 'panel'"}],
 "mark": {"type": "text", "align": "left", "baseline": "alphabetic", "font": "Liberation Sans", "fontSize": 33, "fontWeight": "bold", "color": "black"},
 "encoding": {"x": {"field": "x", "type": "quantitative"}, "y": {"field": "y", "type": "quantitative"}, "text": {"field": "t"}}},
{"data": {"name": "tagA"}, "transform": [{"filter": "datum.part == 'main'"}],
 "mark": {"type": "text", "align": "left", "baseline": "alphabetic", "font": "Liberation Sans", "fontSize": 28, "fontWeight": "bold", "color": "#8a2be2"},
 "encoding": {"x": {"field": "x", "type": "quantitative"}, "y": {"field": "y", "type": "quantitative"}, "text": {"field": "t"}}},
{"data": {"name": "tagA"}, "transform": [{"filter": "datum.part == 'sub'"}],
 "mark": {"type": "text", "align": "left", "baseline": "alphabetic", "font": "Liberation Sans", "fontSize": 19, "fontWeight": "bold", "color": "#8a2be2"},
 "encoding": {"x": {"field": "x", "type": "quantitative"}, "y": {"field": "y", "type": "quantitative"}, "text": {"field": "t"}}}
]
},
{
"width": 435, "height": 323,
"layer": [
{"data": {"name": "B"}, "transform": [{"fold": ["p10","p20","p30","p40","p50"], "as": ["phi","y"]}, {"filter": "datum.y != null"}],
 "mark": {"type": "point", "shape": "circle", "filled": false, "size": 20, "strokeWidth": 0.9, "opacity": 1},
 "encoding": {
  "x": {"field": "x", "type": "quantitative", "scale": {"domain": [13.5, 14.5], "nice": false, "zero": false},
        "axis": {"orient": "bottom", "values": [13.5, 13.625, 13.75, 13.875, 14, 14.125, 14.25, 14.375, 14.5], "labelExpr": "(datum.value * 4) % 1 == 0 ? format(datum.value, '.2f') : ''", "labelFlush": false, "labelOverlap": false, "labelFontSize": 21, "labelFontWeight": "bold", "labelPadding": 2, "tickSize": {"condition": {"test": "(datum.value * 4) % 1 == 0", "value": 5}, "value": 3}, "title": "2 Theta (degree)", "titleFontSize": 24, "titleFontWeight": "bold", "titlePadding": 3}},
  "y": {"field": "y", "type": "quantitative", "scale": {"domain": [0, 323], "nice": false, "zero": false},
        "axis": {"title": "Normalized intensity (a.u.)", "labels": false, "ticks": false, "titleFontSize": 23, "titleFontWeight": "bold", "titlePadding": 10}},
  "color": {"field": "phi", "type": "nominal", "legend": null,
            "scale": {"domain": ["p10","p20","p30","p40","p50","f10","f20","f30","f40","f50"], "range": ["#1a1a1a","#c8302c","#3ec43e","#22228a","#3fcfd2","#000000","#e8251f","#38dd38","#1c1cc4","#3fe3e6"]}}
 }},
{"data": {"name": "B"}, "transform": [{"fold": ["f10","f20","f30","f40","f50"], "as": ["phi","y"]}, {"filter": "datum.y != null"}],
 "mark": {"type": "line", "strokeWidth": 2.5, "interpolate": "monotone"},
 "encoding": {
  "x": {"field": "x", "type": "quantitative"},
  "y": {"field": "y", "type": "quantitative"},
  "color": {"field": "phi", "type": "nominal", "legend": null}
 }},
{"data": {"name": "dashB"},
 "mark": {"type": "line", "color": "black", "strokeWidth": 1.5, "strokeDash": [8, 6]},
 "encoding": {"x": {"field": "x", "type": "quantitative"}, "y": {"field": "y", "type": "quantitative"}}},
{"data": {"name": "labB"},
 "mark": {"type": "text", "align": "right", "baseline": "alphabetic", "font": "Liberation Sans", "fontSize": 27, "fontWeight": "bold", "color": "black"},
 "encoding": {"x": {"field": "x", "type": "quantitative"}, "y": {"field": "y", "type": "quantitative"}, "text": {"field": "t"}}},
{"data": {"name": "tagB"}, "transform": [{"filter": "datum.part == 'panel'"}],
 "mark": {"type": "text", "align": "left", "baseline": "alphabetic", "font": "Liberation Sans", "fontSize": 33, "fontWeight": "bold", "color": "black"},
 "encoding": {"x": {"field": "x", "type": "quantitative"}, "y": {"field": "y", "type": "quantitative"}, "text": {"field": "t"}}},
{"data": {"name": "tagB"}, "transform": [{"filter": "datum.part == 'main'"}],
 "mark": {"type": "text", "align": "left", "baseline": "alphabetic", "font": "Liberation Sans", "fontSize": 28, "fontWeight": "bold", "color": "#1e8b22"},
 "encoding": {"x": {"field": "x", "type": "quantitative"}, "y": {"field": "y", "type": "quantitative"}, "text": {"field": "t"}}},
{"data": {"name": "tagB"}, "transform": [{"filter": "datum.part == 'sub'"}],
 "mark": {"type": "text", "align": "left", "baseline": "alphabetic", "font": "Liberation Sans", "fontSize": 19, "fontWeight": "bold", "color": "#1e8b22"},
 "encoding": {"x": {"field": "x", "type": "quantitative"}, "y": {"field": "y", "type": "quantitative"}, "text": {"field": "t"}}}
]
}
]
}
